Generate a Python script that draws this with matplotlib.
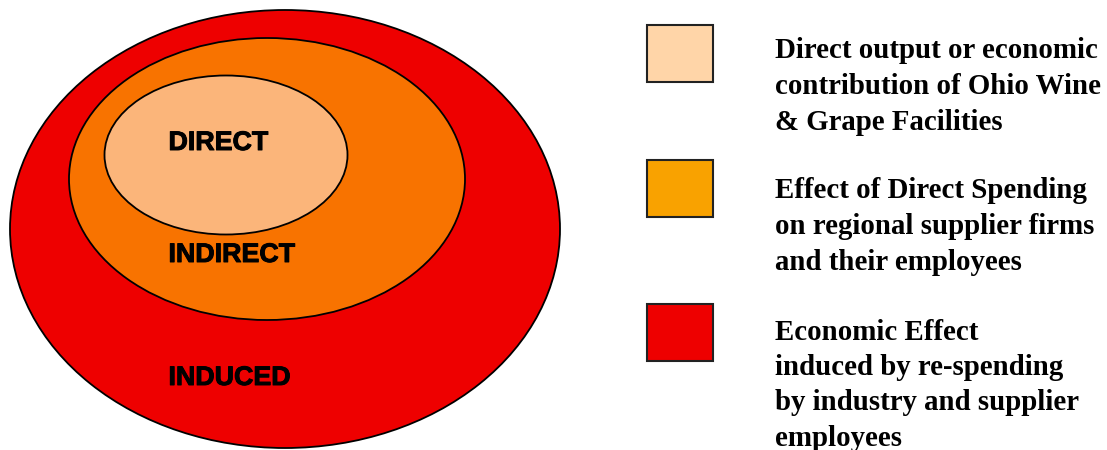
import matplotlib.pyplot as plt
import matplotlib.patheffects as pe
from matplotlib.patches import Ellipse, Rectangle

# rings of the diagram, outermost first
rings = ['INDUCED', 'INDIRECT', 'DIRECT']
ring_colors = ['#ee0000', '#f87300', '#fbb57a']
ring_centers = [(285, 229), (267, 179), (226, 155)]
ring_sizes = [(550, 438), (396, 282), (243, 159)]
label_pos = [(168, 378), (168, 255), (168, 143)]

legend_colors = ['#ffd5a8', '#f9a200', '#ee0000']
legend_texts = [
    'Direct output or economic\ncontribution of Ohio Wine\n& Grape Facilities',
    'Effect of Direct Spending\non regional supplier firms\nand their employees',
    'Economic Effect\ninduced by re-spending\nby industry and supplier\nemployees',
]
legend_box_y = [25, 160, 304]
legend_text_y = [51, 191, 332]

fig = plt.figure(figsize=(11.07, 4.5), dpi=100)
ax = fig.add_axes([0, 0, 1, 1])
ax.set_xlim(0, 1107)
ax.set_ylim(450, 0)
ax.axis('off')

for name, col, c, s, lp in zip(rings, ring_colors, ring_centers, ring_sizes, label_pos):
    ax.add_patch(Ellipse(c, s[0], s[1], facecolor=col, edgecolor='black', lw=1.3))
    ax.text(lp[0] + 0.5, lp[1], name, fontsize=19.3, fontweight='bold', family='Liberation Sans',
            ha='left', va='center', color='black',
            path_effects=[pe.withStroke(linewidth=0.7, foreground='black')])

for col, txt, by, ty in zip(legend_colors, legend_texts, legend_box_y, legend_text_y):
    ax.add_patch(Rectangle((647, by), 66, 57, facecolor=col, edgecolor='#222222', lw=1.5))
    for i, line in enumerate(txt.split('\n')):
        ax.text(775, ty + i * 35.5, line, fontsize=20.8, fontweight='bold',
                family='Liberation Serif', ha='left', va='center', color='black')

fig.savefig('out.png', dpi=100)
